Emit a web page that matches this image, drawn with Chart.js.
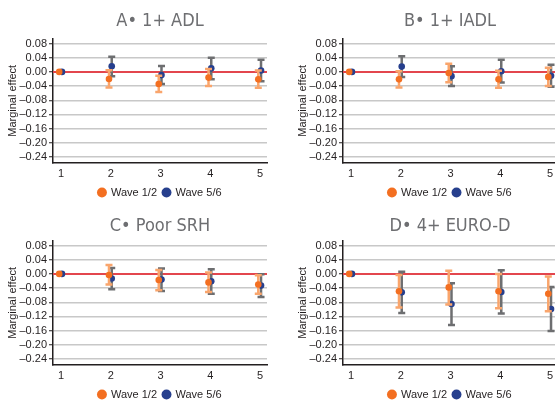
<!DOCTYPE html>
<html>
<head>
<meta charset="utf-8">
<script src="https://cdn.jsdelivr.net/npm/chart.js@4.4.1/dist/chart.umd.min.js"></script>
<style>
  html, body { margin: 0; padding: 0; background: #fff; }
  body { position: relative; width: 555px; height: 400px; overflow: hidden; }
  .panel { position: absolute; width: 277px; height: 200px; }
</style>
</head>
<body>
<div class="panel" style="left:0;top:0"><canvas id="chartA" width="277" height="200"></canvas></div>
<div class="panel" style="left:290px;top:0"><canvas id="chartB" width="277" height="200"></canvas></div>
<div class="panel" style="left:0;top:202px"><canvas id="chartC" width="277" height="200"></canvas></div>
<div class="panel" style="left:290px;top:202px"><canvas id="chartD" width="277" height="200"></canvas></div>
<script>
// x categories and tick labels
const categories = [1, 2, 3, 4, 5];
const xTickLabels = ['1', '2', '3', '4', '5'];
const yTicks = [0.08, 0.04, 0, -0.04, -0.08, -0.12, -0.16, -0.20, -0.24];
const yTickLabels = ['0.08', '0.04', '0.00', '\u20130.04', '\u20130.08', '\u20130.12', '\u20130.16', '\u20130.20', '\u20130.24'];
const seriesNames = ['Wave 1/2', 'Wave 5/6'];

// A: 1+ ADL
const adlW12 = [0, -0.020, -0.034, -0.016, -0.021];
const adlW12Lo = [0, -0.044, -0.057, -0.040, -0.045];
const adlW12Hi = [0, 0.005, -0.011, 0.008, 0.004];
const adlW56 = [0, 0.016, -0.009, 0.010, 0.004];
const adlW56Lo = [0, -0.012, -0.034, -0.021, -0.026];
const adlW56Hi = [0, 0.043, 0.017, 0.040, 0.034];

// B: 1+ IADL
const iadlW12 = [0, -0.021, -0.003, -0.021, -0.014];
const iadlW12Lo = [0, -0.044, -0.029, -0.045, -0.040];
const iadlW12Hi = [0, 0.002, 0.023, 0.003, 0.012];
const iadlW56 = [0, 0.015, -0.012, 0.002, -0.011];
const iadlW56Lo = [0, -0.014, -0.040, -0.030, -0.042];
const iadlW56Hi = [0, 0.044, 0.016, 0.034, 0.020];

// C: Poor SRH
const srhW12 = [0, -0.003, -0.017, -0.024, -0.030];
const srhW12Lo = [0, -0.030, -0.046, -0.051, -0.056];
const srhW12Hi = [0, 0.025, 0.011, 0.004, -0.004];
const srhW56 = [0, -0.013, -0.016, -0.021, -0.033];
const srhW56Lo = [0, -0.043, -0.048, -0.056, -0.065];
const srhW56Hi = [0, 0.017, 0.015, 0.013, -0.001];

// D: 4+ EURO-D
const eurodW12 = [0, -0.049, -0.038, -0.049, -0.056];
const eurodW12Lo = [0, -0.095, -0.086, -0.097, -0.105];
const eurodW12Hi = [0, -0.003, 0.009, 0.000, -0.007];
const eurodW56 = [0, -0.052, -0.085, -0.051, -0.099];
const eurodW56Lo = [0, -0.110, -0.144, -0.112, -0.161];
const eurodW56Hi = [0, 0.006, -0.026, 0.010, -0.037];

const COLORS = {
  w12: '#f36f21',
  w12Bar: '#f9a56c',
  w56: '#263f8d',
  w56Bar: '#6d6e70',
  zero: '#e3464e',
  grid: '#c8c8c8',
  axis: '#231f20',
  text: '#231f20',
  title: '#6d6e71',
};

// zero line + error bars drawn under each dataset's points
const errorBarPlugin = {
  id: 'errorBars',
  beforeDatasetsDraw(chart) {
    const { ctx, chartArea, scales: { y } } = chart;
    const py = y.getPixelForValue(0);
    ctx.save();
    ctx.strokeStyle = COLORS.zero;
    ctx.lineWidth = 2;
    ctx.beginPath();
    ctx.moveTo(chartArea.left, py);
    ctx.lineTo(chartArea.right, py);
    ctx.stroke();
    ctx.restore();
  },
  beforeDatasetDraw(chart, args) {
    const ds = chart.data.datasets[args.index];
    const { ctx, scales: { x, y } } = chart;
    ctx.save();
    ctx.strokeStyle = ds.errColor;
    ctx.lineWidth = ds.errWidth;
    ds.data.forEach(p => {
      if (p.lo === p.hi) return;
      const px = x.getPixelForValue(p.x);
      const yLo = y.getPixelForValue(p.lo);
      const yHi = y.getPixelForValue(p.hi);
      const cap = 3.5;
      ctx.beginPath();
      ctx.moveTo(px, yLo); ctx.lineTo(px, yHi);
      ctx.moveTo(px - cap, yLo); ctx.lineTo(px + cap, yLo);
      ctx.moveTo(px - cap, yHi); ctx.lineTo(px + cap, yHi);
      ctx.stroke();
    });
    ctx.restore();
  },
};

function points(vals, lo, hi, offset) {
  return categories.map((c, i) => ({ x: c + offset, y: vals[i], lo: lo[i], hi: hi[i] }));
}

function makePanel(id, title, titleTop, w12, w12Lo, w12Hi, w56, w56Lo, w56Hi) {
  const tickFont = { family: '"Liberation Sans", Arial, sans-serif', size: 11 };
  return new Chart(document.getElementById(id), {
    type: 'scatter',
    plugins: [errorBarPlugin],
    data: {
      datasets: [
        {
          label: seriesNames[0],
          data: points(w12, w12Lo, w12Hi, -0.035),
          backgroundColor: COLORS.w12,
          borderColor: COLORS.w12,
          pointRadius: 3.3,
          pointBorderWidth: 0,
          errColor: COLORS.w12Bar,
          errWidth: 2.5,
        },
        {
          label: seriesNames[1],
          data: points(w56, w56Lo, w56Hi, 0.02),
          backgroundColor: COLORS.w56,
          borderColor: COLORS.w56,
          pointRadius: 3.3,
          pointBorderWidth: 0,
          errColor: COLORS.w56Bar,
          errWidth: 2.5,
        },
      ],
    },
    options: {
      responsive: false,
      animation: false,
      devicePixelRatio: 1,
      layout: { padding: { left: 0, right: 10, top: 0, bottom: -8 } },
      scales: {
        x: {
          type: 'linear',
          min: 0.84,
          max: 5.14,
          afterBuildTicks(scale) { scale.ticks = categories.map(v => ({ value: v })); },
          afterFit(scale) { scale.height = 18; },
          grid: { display: false, drawTicks: false },
          border: { display: true, color: COLORS.axis, width: 1.5 },
          ticks: {
            color: COLORS.text,
            font: tickFont,
            padding: 4,
            maxRotation: 0,
            autoSkip: false,
            callback: (v) => xTickLabels[categories.indexOf(v)],
          },
        },
        y: {
          min: -0.257,
          max: 0.094,
          afterBuildTicks(scale) { scale.ticks = yTicks.map(v => ({ value: v })); },
          afterFit(scale) { scale.width = 53; },
          grid: { color: COLORS.grid, lineWidth: 1.5, tickColor: COLORS.axis, tickLength: 4, tickWidth: 1 },
          border: { display: true, color: COLORS.axis, width: 1.5 },
          ticks: {
            color: COLORS.text,
            font: tickFont,
            padding: 2,
            autoSkip: false,
            callback: (v) => yTickLabels[yTicks.indexOf(v)],
          },
          title: {
            display: true,
            text: 'Marginal effect',
            color: COLORS.text,
            font: tickFont,
            padding: { top: 6, bottom: 0 },
          },
        },
      },
      plugins: {
        title: {
          display: true,
          text: title,
          fullSize: false,
          color: COLORS.title,
          font: { family: '"Liberation Sans Narrow", "DejaVu Sans Condensed", sans-serif', size: 18, weight: 'normal' },
          padding: { top: titleTop, bottom: 17 - titleTop },
        },
        legend: {
          position: 'bottom',
          fullSize: false,
          labels: {
            usePointStyle: true,
            pointStyle: 'circle',
            boxWidth: 7,
            boxHeight: 7,
            padding: 6,
            color: COLORS.text,
            font: tickFont,
          },
        },
        tooltip: { enabled: false },
      },
    },
  });
}

makePanel('chartA', 'A\u2022 1+ ADL', 11, adlW12, adlW12Lo, adlW12Hi, adlW56, adlW56Lo, adlW56Hi);
makePanel('chartB', 'B\u2022 1+ IADL', 11, iadlW12, iadlW12Lo, iadlW12Hi, iadlW56, iadlW56Lo, iadlW56Hi);
makePanel('chartC', 'C\u2022 Poor SRH', 14, srhW12, srhW12Lo, srhW12Hi, srhW56, srhW56Lo, srhW56Hi);
makePanel('chartD', 'D\u2022 4+ EURO-D', 14, eurodW12, eurodW12Lo, eurodW12Hi, eurodW56, eurodW56Lo, eurodW56Hi);
</script>
</body>
</html>
